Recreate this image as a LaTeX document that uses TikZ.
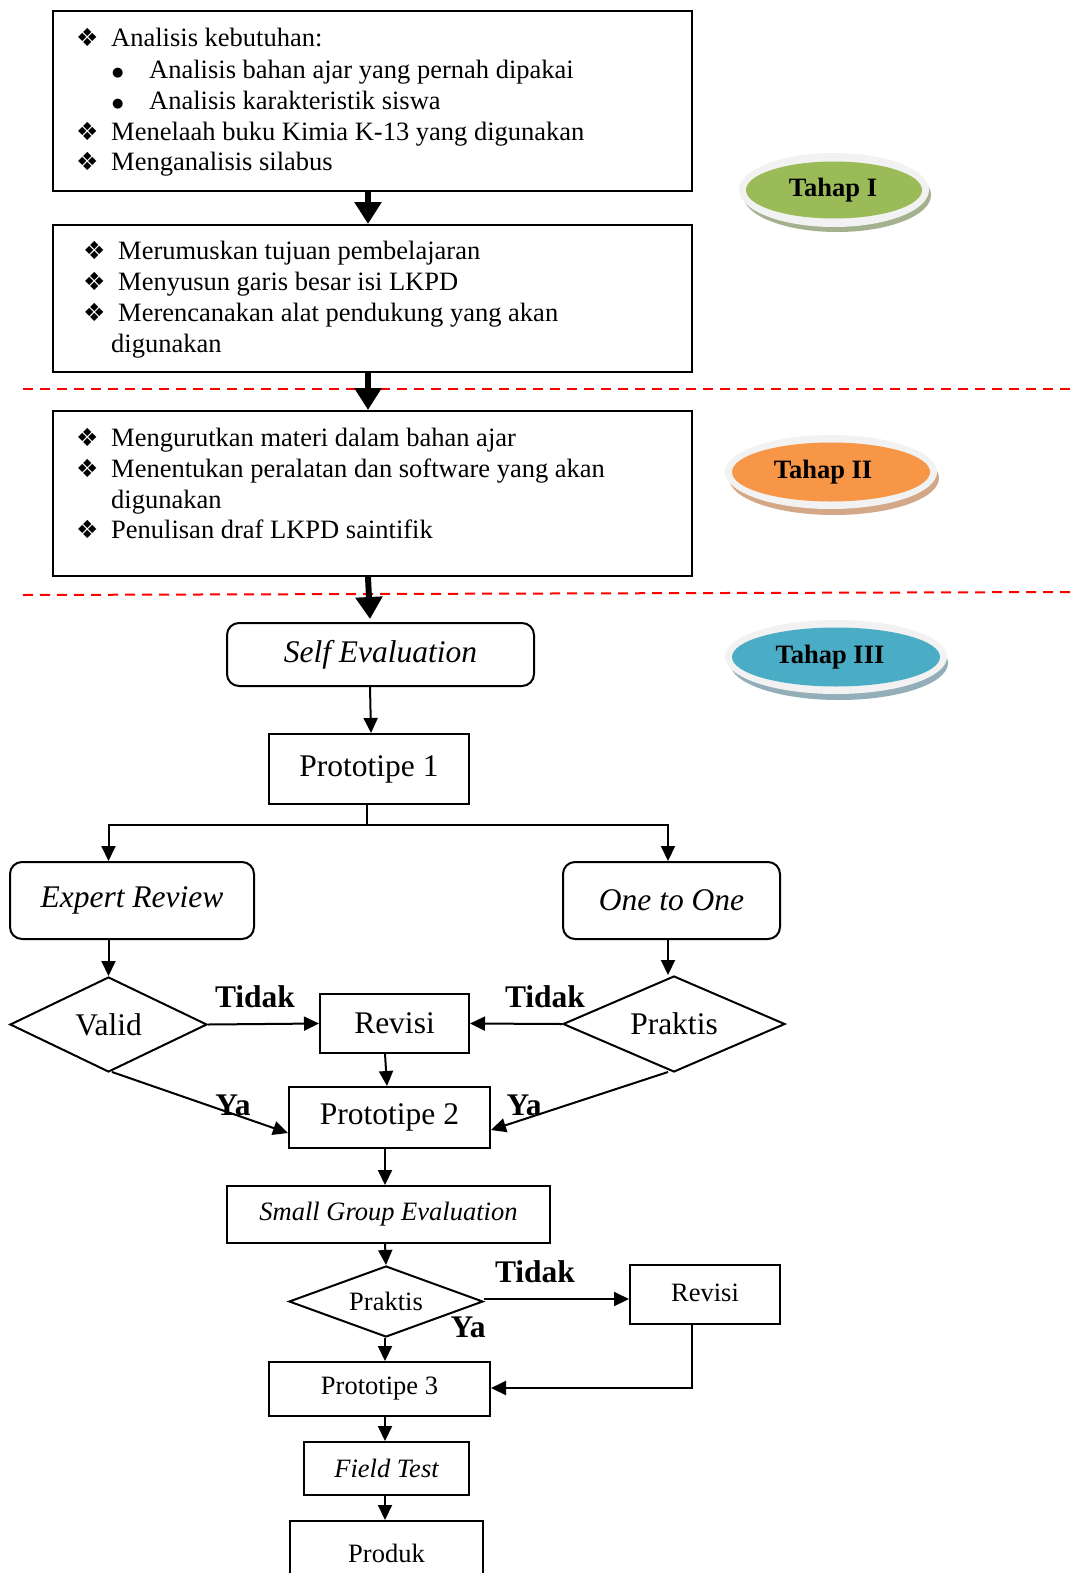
\documentclass[tikz,border=0pt]{standalone}
\usepackage{fontspec}
\setmainfont{Liberation Serif}
\newfontfamily\dejavu{DejaVu Sans}
\usetikzlibrary{arrows.meta,shapes.geometric,calc}
\definecolor{gI}{HTML}{9BBB59}
\definecolor{gIs}{HTML}{A3B18E}
\definecolor{gII}{HTML}{F79646}
\definecolor{gIIs}{HTML}{D2A888}
\definecolor{gIII}{HTML}{4BACC6}
\definecolor{gIIIs}{HTML}{93AEB8}
\definecolor{ring}{HTML}{F2F2F2}
\newcommand{\dia}{{\dejavu\fontsize{25}{25}\selectfont ❖}}
\newcommand{\bul}{\raisebox{2pt}{\dejavu\fontsize{13}{13}\selectfont ●}}
\begin{document}
\begin{tikzpicture}[x=1pt,y=-1pt,
  sm/.style={font=\fontsize{26.5}{31.5}\selectfont},
  bg/.style={font=\fontsize{31.5}{36}\selectfont},
  txt/.style={sm, inner sep=0pt, anchor=base west},
  box/.style={draw, line width=2pt, rectangle, inner sep=0pt},
  rbox/.style={box, rounded corners=12pt},
  dmd/.style={draw, line width=2pt, diamond, inner sep=0pt},
  arr/.style={line width=2pt, -{Triangle[length=15pt,width=14pt]}},
  thickarr/.style={line width=6pt, -{Triangle[length=22pt,width=26pt]}},
  plain/.style={line width=2pt},
  lbl/.style={bg, font=\fontsize{31.5}{36}\selectfont\bfseries, inner sep=0pt},
  tahap/.style={font=\fontsize{26.5}{31.5}\selectfont\bfseries, inner sep=0pt},
  reddash/.style={draw=red, line width=2pt, dash pattern=on 10pt off 7pt}
]
\useasboundingbox (0,0) rectangle (1076,1573);
\clip (0,0) rectangle (1076,1573);
\fill[white] (0,0) rectangle (1076,1573);

% dashed separators
\coordinate (d1a) at (23,389);
\coordinate (d1b) at (1076,389);
\coordinate (d2a) at (23,595);
\coordinate (d2b) at (1076,592);
\draw[reddash] (d1a) -- (d1b);
\draw[reddash] (d2a) -- (d2b);

% top boxes
\node[box, minimum width=639, minimum height=180] (box1) at (372.5,101) {};
\node[txt] (b1l1) at (76,47) {\makebox[35pt][l]{\dia}Analisis kebutuhan:};
\node[txt] (b1l2) at (112,79) {\makebox[37pt][l]{\bul}Analisis bahan ajar yang pernah dipakai};
\node[txt] (b1l3) at (112,110) {\makebox[37pt][l]{\bul}Analisis karakteristik siswa};
\node[txt] (b1l4) at (76,141) {\makebox[35pt][l]{\dia}Menelaah buku Kimia K-13 yang digunakan};
\node[txt] (b1l5) at (76,171) {\makebox[35pt][l]{\dia}Menganalisis silabus};

\node[box, minimum width=639, minimum height=147] (box2) at (372.5,298.5) {};
\node[txt] (b2l1) at (83,259) {\makebox[35pt][l]{\dia}Merumuskan tujuan pembelajaran};
\node[txt] (b2l2) at (83,290) {\makebox[35pt][l]{\dia}Menyusun garis besar isi LKPD};
\node[txt] (b2l3) at (83,321) {\makebox[35pt][l]{\dia}Merencanakan alat pendukung yang akan};
\node[txt] (b2l4) at (111,352) {digunakan};

\node[box, minimum width=639, minimum height=165] (box3) at (372.5,493.5) {};
\node[txt] (b3l1) at (76,446) {\makebox[35pt][l]{\dia}Mengurutkan materi dalam bahan ajar};
\node[txt] (b3l2) at (76,477) {\makebox[35pt][l]{\dia}Menentukan peralatan dan software yang akan};
\node[txt] (b3l3) at (111,508) {digunakan};
\node[txt] (b3l4) at (76,538) {\makebox[35pt][l]{\dia}Penulisan draf LKPD saintifik};

% Tahap ellipses
\fill[gIs] (837,195) ellipse [x radius=94, y radius=37];
\fill[ring] (834,190) ellipse [x radius=95, y radius=37];
\fill[gI] (834,190) ellipse [x radius=88, y radius=28.5];
\node[tahap] (t1) at (833,190) {Tahap I};

\fill[gIIs] (834,478) ellipse [x radius=105, y radius=37];
\fill[ring] (831,472) ellipse [x radius=106, y radius=37];
\fill[gII] (831,472) ellipse [x radius=99, y radius=29.5];
\node[tahap] (t2) at (823,472) {Tahap II};

\fill[gIIIs] (839,663) ellipse [x radius=109, y radius=37];
\fill[ring] (836,657) ellipse [x radius=111, y radius=37];
\fill[gIII] (836,657) ellipse [x radius=104, y radius=29.5];
\node[tahap] (t3) at (830,657) {Tahap III};

% flow nodes
\node[rbox, bg, minimum width=307, minimum height=63] (selfev) at (380.5,654.5) {\itshape Self Evaluation};
\node[box, bg, minimum width=200, minimum height=70] (proto1) at (369,769) {Prototipe 1};
\node[rbox, bg, minimum width=244, minimum height=77] (expert) at (132,900.5) {\itshape Expert Review};
\node[rbox, bg, minimum width=217, minimum height=77] (onetoone) at (671.5,900.5) {\itshape One to One};
\node[dmd, bg, minimum width=197, minimum height=95, aspect=2.07] (valid) at (108.5,1024.5) {Valid};
\node[dmd, bg, minimum width=222, minimum height=96, aspect=2.3] (praktis) at (674,1024) {Praktis};
\node[box, bg, minimum width=149, minimum height=59] (revisi) at (394.5,1023.5) {Revisi};
\node[box, bg, minimum width=201, minimum height=61] (proto2) at (389.5,1117.5) {Prototipe 2};
\node[box, sm, minimum width=323, minimum height=57] (small) at (388.5,1214.5) {\itshape Small Group Evaluation};
\node[dmd, sm, minimum width=194, minimum height=71, aspect=2.7] (praktis2) at (386,1301.5) {Praktis};
\node[box, sm, minimum width=150, minimum height=59] (revisi2) at (705,1294.5) {\raisebox{4pt}{Revisi}};
\node[box, sm, minimum width=221, minimum height=54] (proto3) at (379.5,1389) {Prototipe 3};
\node[box, sm, minimum width=165, minimum height=53] (field) at (386.5,1468.5) {\itshape Field Test};
\node[box, sm, minimum width=193, minimum height=78] (produk) at (386.5,1560) {\raisebox{13pt}{Produk}};

% labels
\node[lbl] (tidak1) at (255,997) {Tidak};
\node[lbl] (tidak2) at (545,997) {Tidak};
\node[lbl] (tidak3) at (535,1272) {Tidak};
\node[lbl] (ya1) at (233,1105) {Ya};
\node[lbl] (ya2) at (524,1105) {Ya};
\node[lbl] (ya3) at (468,1327) {Ya};

% connectors
\coordinate (ax) at (368,0);
\draw[thickarr] (box1.south -| ax) -- (box2.north -| ax);
\draw[thickarr] (box2.south -| ax) -- (box3.north -| ax);
\draw[thickarr] (box3.south -| ax) -- ($(selfev.north)+(-10.5,-3)$);
\draw[arr] ($(selfev.south)+(-10.5,0)$) -- ($(proto1.north)+(2,0)$);

\coordinate (split) at (367,825);
\draw[plain] (proto1.south -| split) -- (split);
\draw[arr] (split) -| (expert.north -| valid.north);
\draw[arr] (split) -| ($(onetoone.north)+(-3.5,0)$);
\draw[arr] (expert.south -| valid.north) -- (valid.north);
\draw[arr] ($(onetoone.south)+(-3.5,0)$) -- ($(praktis.north)+(-6,0)$);
\draw[arr] (valid.east) -- (revisi.west);
\draw[arr] (praktis.west) -- (revisi.east);
\draw[arr] ($(revisi.south)+(-9.5,0)$) -- ($(proto2.north)+(-2.5,0)$);
\draw[arr] ($(valid.south)+(3.5,-1)$) -- ($(proto2.west)+(0,15.5)$);
\draw[arr] ($(praktis.south)+(-6,-1)$) -- ($(proto2.east)+(0,12.5)$);
\draw[arr] ($(proto2.south)+(-4.5,0)$) -- ($(small.north)+(-3.5,0)$);
\draw[arr] ($(small.south)+(-3.5,0)$) -- (praktis2.north);
\draw[arr] ($(praktis2.east)+(0,-2.5)$) -- ($(revisi2.west)+(0,4.5)$);
\draw[arr] ($(praktis2.south)+(-1,0)$) -- ($(proto3.north)+(5.5,0)$);
\coordinate (rb) at (692,1388);
\draw[arr] (revisi2.south -| rb) -- (rb) -- (proto3.east |- rb);
\draw[arr] ($(proto3.south)+(5.5,0)$) -- ($(field.north)+(-1.5,0)$);
\draw[arr] ($(field.south)+(-1.5,0)$) -- ($(produk.north)+(-1.5,0)$);
\end{tikzpicture}
\end{document}
